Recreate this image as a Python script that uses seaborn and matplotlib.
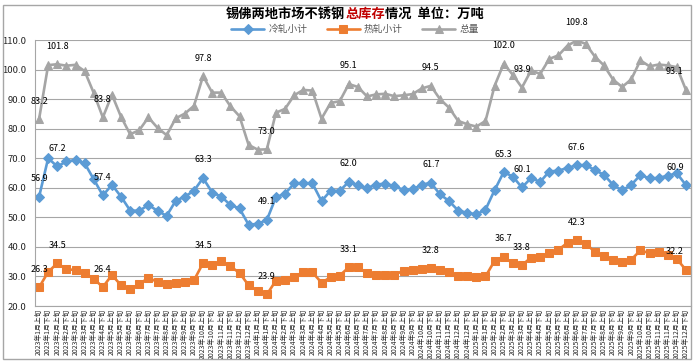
import numpy as np
import pandas as pd
import matplotlib
matplotlib.use("Agg")
import matplotlib.pyplot as plt
from matplotlib.patches import Rectangle
import seaborn as sns

# x-axis periods: two per month, 2023-01 .. 2025-12
periods = [f"{y}年{m}月{h}" for y in (2023, 2024, 2025)
           for m in range(1, 13) for h in ("上旬", "下旬")]

cold = [56.9, 70.0, 67.2, 68.9, 69.4, 68.3, 62.9, 57.4, 61.0, 57.0, 52.3, 52.2,
        54.2, 52.2, 50.5, 55.6, 57.0, 59.0, 63.3, 58.4, 57.0, 54.2, 53.0, 47.5,
        47.8, 49.1, 56.8, 58.0, 61.5, 61.6, 61.5, 55.5, 59.0, 59.0, 62.0, 60.9,
        59.9, 61.1, 61.4, 60.5, 59.3, 59.5, 61.0, 61.7, 57.8, 55.5, 52.3, 51.5,
        51.0, 52.6, 59.2, 65.3, 63.8, 60.1, 63.3, 62.0, 65.5, 65.8, 66.7, 67.6,
        67.7, 66.0, 64.4, 61.0, 59.1, 61.0, 64.3, 63.2, 63.3, 64.1, 64.9, 60.9]

hot = [26.3, 31.5, 34.5, 32.4, 32.2, 31.2, 29.2, 26.4, 30.5, 27.0, 25.8, 27.3,
       29.6, 28.1, 27.3, 27.9, 28.1, 28.7, 34.5, 33.8, 35.2, 33.4, 31.2, 27.0,
       25.1, 23.9, 28.6, 28.7, 29.8, 31.5, 31.4, 27.9, 29.7, 30.3, 33.1, 33.2,
       31.0, 30.5, 30.4, 30.5, 32.0, 32.2, 32.6, 32.8, 32.2, 31.6, 30.3, 30.0,
       29.7, 30.0, 35.3, 36.7, 34.4, 33.8, 36.4, 36.5, 38.1, 39.0, 41.4, 42.3,
       41.0, 38.4, 37.0, 35.6, 35.0, 35.7, 38.8, 37.9, 38.4, 37.3, 35.9, 32.2]

total = [83.2, 101.5, 101.8, 101.3, 101.6, 99.5, 92.1, 83.8, 91.5, 84.0, 78.1, 79.5,
         83.8, 80.3, 77.8, 83.5, 85.1, 87.7, 97.8, 92.2, 92.2, 87.6, 84.2, 74.5,
         72.9, 73.0, 85.4, 86.7, 91.3, 93.1, 92.9, 83.4, 88.7, 89.3, 95.1, 94.1,
         90.9, 91.6, 91.8, 91.0, 91.3, 91.7, 93.6, 94.5, 90.0, 87.1, 82.6, 81.5,
         80.7, 82.6, 94.5, 102.0, 98.2, 93.9, 99.7, 98.5, 103.6, 104.8, 108.1, 109.8,
         108.7, 104.4, 101.4, 96.6, 94.1, 96.7, 103.1, 101.1, 101.7, 101.4, 100.8, 93.1]

# points that carry a value label
label_idx = [0, 2, 7, 18, 25, 34, 43, 51, 53, 59, 71]

df = pd.DataFrame({"period": periods, "冷轧小计": cold, "热轧小计": hot, "总量": total})
df["x"] = np.arange(len(df))

sns.set_theme(style="white")
plt.rcParams["font.family"] = ["Noto Sans CJK SC", "DejaVu Sans"]

fig = plt.figure(figsize=(6.94, 3.64), dpi=100)
ax = fig.add_axes([34.5 / 694, 58 / 364, 656 / 694, 266 / 364])

styles = [("冷轧小计", "#5B9BD5", "D", 4.6),
          ("热轧小计", "#ED7D31", "s", 5.6),
          ("总量", "#A5A5A5", "^", 6.4)]

for name, col, mk, ms in styles:
    sns.lineplot(data=df, x="x", y=name, ax=ax, color=col, marker=mk,
                 markersize=ms, markeredgecolor=col, linewidth=1.9, label=name)
    for i in label_idx:
        v = df[name].iloc[i]
        dx = -8 if i == len(df) - 1 else 0
        ax.annotate(f"{v:.1f}", (i, v), xytext=(dx, 13), textcoords="offset points",
                    ha="center", va="center", fontsize=6.5, color="black")

ax.set_xlim(-0.5, len(df) - 0.5)
ax.set_ylim(20, 110)
ax.set_yticks(range(20, 111, 10))
ax.set_yticklabels([f"{t:.1f}" for t in range(20, 111, 10)], fontsize=6.8)
ax.set_xticks(df["x"])
ax.set_xticklabels(df["period"], rotation=90, fontsize=4.9, va="top")
ax.set_xticks(np.arange(-0.5, len(df), 1), minor=True)
ax.tick_params(axis="x", which="major", length=0, pad=2)
ax.tick_params(axis="x", which="minor", length=3, color="#A6A6A6", width=0.8)
ax.tick_params(axis="y", length=3, color="#A6A6A6", width=0.8, pad=3)
ax.set_xlabel("")
ax.set_ylabel("")
ax.yaxis.grid(True, color="#A6A6A6", linewidth=0.8)
ax.set_axisbelow(True)
for s in ("top", "right"):
    ax.spines[s].set_visible(False)
for s in ("left", "bottom"):
    ax.spines[s].set_color("#A6A6A6")
    ax.spines[s].set_linewidth(0.8)

leg = ax.legend(loc="center", bbox_to_anchor=(355 / 694, 1 - 29 / 364),
                bbox_transform=fig.transFigure, ncol=3, frameon=False, fontsize=7,
                handlelength=3.4, columnspacing=2.0, handletextpad=0.4)
for t in leg.get_texts():
    t.set_color("#595959")

# title with the red middle part
parts = [("锡佛两地市场不锈钢", "black"), ("总库存", "#C00000"), ("情况  单位：万吨", "black")]
renderer = fig.canvas.get_renderer()
texts = []
for s, c in parts:
    t = fig.text(0, 1 - 14 / 364, s, color=c, fontsize=9.5, fontweight="bold",
                 ha="left", va="center")
    texts.append(t)
widths = [t.get_window_extent(renderer).width for t in texts]
x0 = 355 - sum(widths) / 2
for t, w in zip(texts, widths):
    t.set_x(x0 / 694)
    x0 += w

fig.add_artist(Rectangle((3 / 694, 5 / 364), 688 / 694, 354 / 364,
                         transform=fig.transFigure, fill=False,
                         edgecolor="#A6A6A6", linewidth=1))

fig.savefig("out.png", dpi=100)
